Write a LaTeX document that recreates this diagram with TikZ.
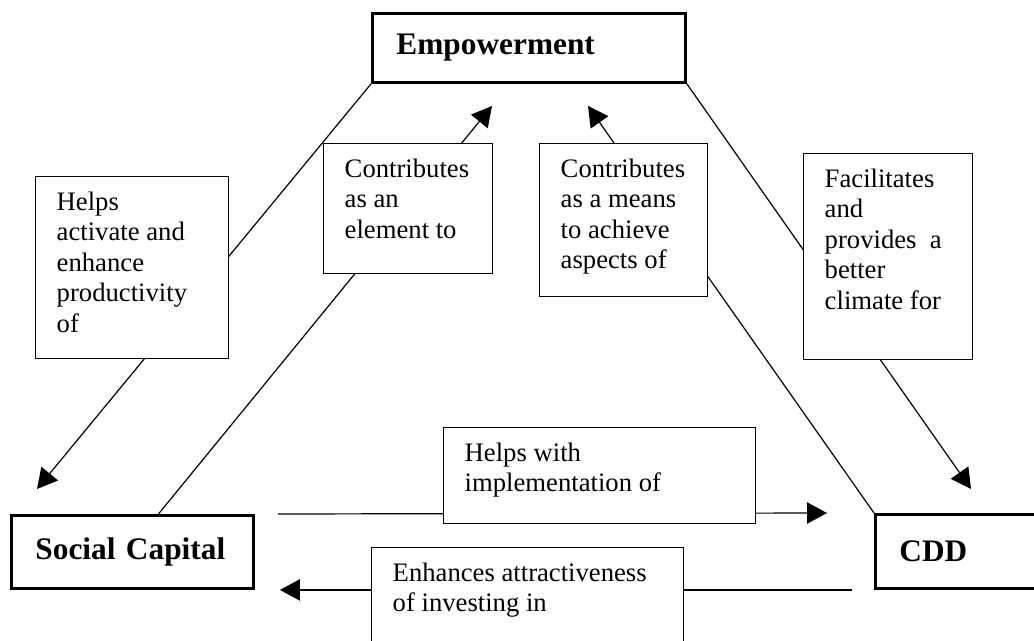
\documentclass[tikz,border=0pt]{standalone}
\usepackage{fontspec}
\setmainfont{Liberation Serif}
\usetikzlibrary{arrows.meta}
\usetikzlibrary{backgrounds}

\tikzset{
  mainbox/.style={draw, line width=2.2pt, anchor=north west, inner xsep=18pt, inner ysep=0pt, align=left, font=\bfseries\fontsize{23.5}{28}\selectfont},
  lblbox/.style={draw, fill=white, line width=1.1pt, anchor=north west, inner xsep=15.75pt, inner ysep=0pt, font=\fontsize{20}{22.9}\selectfont},
  link/.style={line width=0.9pt},
  arr/.style={link, -{Triangle[length=15pt,width=16pt]}}
}
\newcommand{\boxtxt}[3]{\parbox[c][#2][t]{#1}{\raggedright\rule{0pt}{25pt}#3}}

\begin{document}
\begin{tikzpicture}[x=0.75pt,y=0.75pt,yscale=-1,xscale=1]
\useasboundingbox (0,0) rectangle (1034,641);

% Main Node
\node [mainbox, text width=198.75pt, minimum height=51.75pt] (emp) at (371,12) {Empowerment};
% Main Node
\node [mainbox, text width=145.5pt, minimum height=54.75pt] (soc) at (10,514) {Social Capital};
% Main Node
\node [mainbox, text width=114pt, minimum height=55.5pt] (cdd) at (874,513) {CDD};

% Text Node
\node [lblbox] (help) at (35,176) {\boxtxt{113.25pt}{136.5pt}{Helps\\activate and\\enhance\\productivity\\of}};
% Text Node
\node [lblbox] (elem) at (323,143) {\boxtxt{95.25pt}{97.5pt}{Contributes\\as an\\element to}};
% Text Node
\node [lblbox] (means) at (539,143) {\boxtxt{94.5pt}{114.75pt}{Contributes\\as a means\\to achieve\\aspects of}};
% Text Node
\node [lblbox] (facil) at (803,153) {\boxtxt{95.25pt}{154.5pt}{Facilitates\\and\\provides\ \ a\\better\\climate for}};
% Text Node
\node [lblbox] (impl) at (443,427) {\boxtxt{202.5pt}{72pt}{Helps with\\implementation of}};
% Text Node
\node [lblbox] (attr) at (371,547) {\boxtxt{202.5pt}{90pt}{Enhances attractiveness\\of investing in}};

% arrow ends
\coordinate (t1) at (37,489);
\coordinate (t2) at (492,106);
\coordinate (t3) at (588,106);
\coordinate (t4) at (971,489);

\begin{scope}[on background layer]
%Straight Lines
\draw [arr] (emp.south west) -- (t1);
\draw [arr] ([xshift=19.5pt]soc.north) -- (t2);
\draw [arr] (cdd.north west) -- (t3);
\draw [arr] (emp.south east) -- (t4);
\draw [arr] ([xshift=17.25pt]soc.north east) -- ([xshift=-35.25pt]cdd.north west);
\draw [arr] ([xshift=-16.5pt]cdd.south west) -- ([xshift=18.75pt]soc.south east);
\end{scope}

\end{tikzpicture}
\end{document}
